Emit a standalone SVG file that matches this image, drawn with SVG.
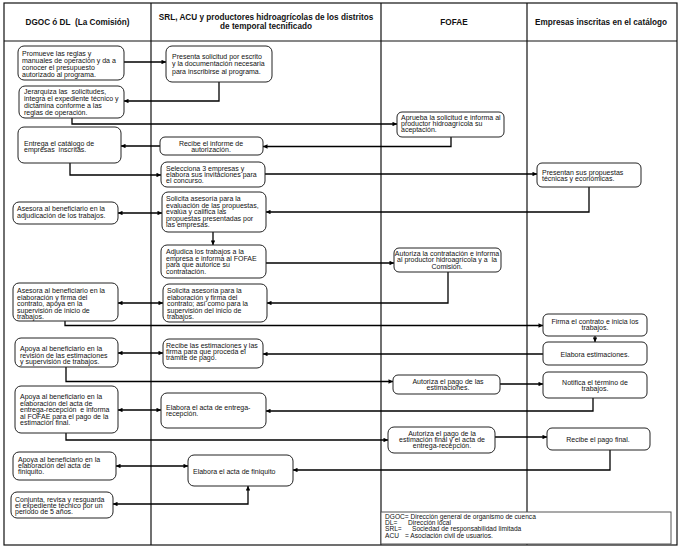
<svg xmlns="http://www.w3.org/2000/svg" width="678" height="551" viewBox="0 0 678 551">
<defs>
<marker id="ah" viewBox="0 0 6 6" refX="6" refY="3" markerWidth="5" markerHeight="4.5" markerUnits="userSpaceOnUse" orient="auto-start-reverse">
<path d="M0,0 L6,3 L0,6 z" fill="#000"/>
</marker>
<style>
.frame{fill:none;stroke:#111;stroke-width:1.2}
.box{fill:#fff;stroke:#222;stroke-width:1}
.t{font-family:"Liberation Sans",Arial,sans-serif;font-size:7px;fill:#111;white-space:pre}
.c{text-anchor:middle}
.h{font-family:"Liberation Sans",Arial,sans-serif;font-size:8.2px;font-weight:bold;fill:#111;text-anchor:middle;white-space:pre}
.lg{font-family:"Liberation Sans",Arial,sans-serif;font-size:6.6px;fill:#111;white-space:pre}
.cn{fill:none;stroke:#000;stroke-width:1.3}
.a{marker-end:url(#ah)}
.d{marker-start:url(#ah);marker-end:url(#ah)}
</style>
</defs>
<rect width="678" height="551" fill="#fff"/>

<g id="lanes">
<rect class="frame" x="4" y="3" width="673" height="542"/>
<line class="frame" x1="4" y1="41" x2="677" y2="41"/>
<line class="frame" x1="151" y1="3" x2="151" y2="545"/>
<line class="frame" x1="381" y1="3" x2="381" y2="545"/>
<line class="frame" x1="527" y1="3" x2="527" y2="545"/>
<text class="h" x="77.5" y="24.5">DGOC ó DL  (La Comisión)</text>
<text class="h" x="266" y="20">SRL, ACU y productores hidroagrícolas de los distritos</text>
<text class="h" x="266" y="29">de temporal tecnificado</text>
<text class="h" x="454" y="24.5">FOFAE</text>
<text class="h" x="601" y="24.5">Empresas inscritas en el catálogo</text>
</g>

<g id="connectors">
<path class="cn a" d="M124,62 H166"/>
<path class="cn a" d="M219,82 V101 H124"/>
<path class="cn a" d="M72,118 V124 H397"/>
<path class="cn a" d="M451,137 V146.5 H263"/>
<path class="cn a" d="M160,146 H121"/>
<path class="cn a" d="M70,163 V175 H161"/>
<path class="cn a" d="M265,174 H537"/>
<path class="cn a" d="M589,187 V212 H266"/>
<path class="cn d" d="M118,213 H162"/>
<path class="cn a" d="M213,232 V245"/>
<path class="cn a" d="M266,263 H394"/>
<path class="cn a" d="M448,272 V303 H267"/>
<path class="cn d" d="M118,303 H163"/>
<path class="cn a" d="M65,321 V325.5 H543"/>
<path class="cn a" d="M595,336 V342"/>
<path class="cn a" d="M543,354 H263"/>
<path class="cn d" d="M118,353 H163"/>
<path class="cn a" d="M66,367 V381.5 H393"/>
<path class="cn a" d="M500,384 H543"/>
<path class="cn a" d="M593,398 V411 H266"/>
<path class="cn d" d="M118,410 H161"/>
<path class="cn a" d="M66,433 V440 H388"/>
<path class="cn a" d="M495,437 H547"/>
<path class="cn a" d="M610,450 V470 H293"/>
<path class="cn d" d="M116,466 H188"/>
<path class="cn d" d="M113,504 H248 V486"/>
</g>

<g id="n1"><rect class="box" x="18" y="46" width="106" height="34" rx="6"/>
<text class="t" x="22" y="55.5">Promueve las reglas y</text>
<text class="t" x="22" y="62.7">manuales de operación y da a</text>
<text class="t" x="22" y="69.9">conocer el presupuesto</text>
<text class="t" x="22" y="77.1">autorizado al programa.</text></g>

<g id="n2"><rect class="box" x="19" y="86" width="105" height="32" rx="6"/>
<text class="t" x="24" y="94">Jerarquiza las  solicitudes,</text>
<text class="t" x="24" y="100.8">integra el expediente técnico y</text>
<text class="t" x="24" y="107.8">dictamina conforme a las</text>
<text class="t" x="24" y="114.8">reglas de operación.</text></g>

<g id="n3"><rect class="box" x="18" y="127" width="103" height="36" rx="6"/>
<text class="t" x="24" y="145.5">Entrega el catálogo de</text>
<text class="t" x="24" y="152">empresas  inscritas.</text></g>

<g id="n4"><rect class="box" x="13" y="202" width="105" height="22" rx="6"/>
<text class="t" x="17" y="211">Asesora al beneficiario en la</text>
<text class="t" x="17" y="217.5">adjudicación de los trabajos.</text></g>

<g id="n5"><rect class="box" x="13" y="283" width="105" height="38" rx="6"/>
<text class="t" x="17" y="293">Asesora al beneficiario en la</text>
<text class="t" x="17" y="299.5">elaboración y firma del</text>
<text class="t" x="17" y="306">contrato, apoya en la</text>
<text class="t" x="17" y="312.5">supervisión de inicio de</text>
<text class="t" x="17" y="319">trabajos.</text></g>

<g id="n6"><rect class="box" x="15" y="338" width="103" height="29" rx="6"/>
<text class="t" x="20" y="351">Apoya al beneficiario en la</text>
<text class="t" x="20" y="357.5">revisión de las estimaciones</text>
<text class="t" x="20" y="364">y supervisión de trabajos.</text></g>

<g id="n7"><rect class="box" x="15" y="386" width="103" height="47" rx="6"/>
<text class="t" x="20" y="399">Apoya al beneficiario en la</text>
<text class="t" x="20" y="405.5">elaboración del acta de</text>
<text class="t" x="20" y="412">entrega-recepción  e informa</text>
<text class="t" x="20" y="418.5">al FOFAE para el pago de la</text>
<text class="t" x="20" y="425">estimación final.</text></g>

<g id="n8"><rect class="box" x="13" y="452" width="103" height="28" rx="6"/>
<text class="t" x="18" y="462">Apoya al beneficiario en la</text>
<text class="t" x="18" y="468">elaboración del acta de</text>
<text class="t" x="18" y="474">finiquito.</text></g>

<g id="n9"><rect class="box" x="11" y="492" width="102" height="26" rx="6"/>
<text class="t" x="15" y="501.5">Conjunta, revisa y resguarda</text>
<text class="t" x="15" y="507.5">el expediente técnico por un</text>
<text class="t" x="15" y="513.5">periodo de 5 años.</text></g>

<g id="c1"><rect class="box" x="166" y="46" width="106" height="36" rx="6"/>
<text class="t" x="172" y="59">Presenta solicitud por escrito</text>
<text class="t" x="172" y="66.3">y la documentación necesaria</text>
<text class="t" x="172" y="73.5">para inscribirse al programa.</text></g>

<g id="c2"><rect class="box" x="160" y="137" width="103" height="18" rx="5"/>
<text class="t c" x="211" y="145.5">Recibe el informe de</text>
<text class="t c" x="211" y="151.8">autorización.</text></g>

<g id="c3"><rect class="box" x="161" y="162" width="104" height="25" rx="6"/>
<text class="t" x="166" y="170.5">Selecciona 3 empresas y</text>
<text class="t" x="166" y="176.8">elabora sus invitaciones para</text>
<text class="t" x="166" y="183">el concurso.</text></g>

<g id="c4"><rect class="box" x="162" y="192" width="104" height="40" rx="6"/>
<text class="t" x="166" y="201">Solicita asesoría para la</text>
<text class="t" x="166" y="207.5">evaluación de las propuestas,</text>
<text class="t" x="166" y="214">evalúa y califica las</text>
<text class="t" x="166" y="220.5">propuestas presentadas por</text>
<text class="t" x="166" y="227">las empresas.</text></g>

<g id="c5"><rect class="box" x="161" y="245" width="105" height="33" rx="6"/>
<text class="t" x="166" y="254">Adjudica los trabajos a la</text>
<text class="t" x="166" y="260.5">empresa e informa al FOFAE</text>
<text class="t" x="166" y="267">para que autorice su</text>
<text class="t" x="166" y="273.5">contratación.</text></g>

<g id="c6"><rect class="box" x="163" y="284" width="104" height="38" rx="6"/>
<text class="t" x="167" y="293">Solicita asesoría para la</text>
<text class="t" x="167" y="299.5">elaboración y firma del</text>
<text class="t" x="167" y="306">contrato; así como para la</text>
<text class="t" x="167" y="312.5">supervisión del inicio de</text>
<text class="t" x="167" y="319">trabajos.</text></g>

<g id="c7"><rect class="box" x="163" y="339" width="100" height="29" rx="6"/>
<text class="t" x="166" y="347.5">Recibe las estimaciones y las</text>
<text class="t" x="166" y="353.8">firma para que proceda el</text>
<text class="t" x="166" y="360">trámite de pago.</text></g>

<g id="c8"><rect class="box" x="161" y="393" width="105" height="35" rx="6"/>
<text class="t" x="166" y="409.5">Elabora el acta de entrega-</text>
<text class="t" x="166" y="416">recepción.</text></g>

<g id="c9"><rect class="box" x="188" y="455" width="105" height="31" rx="6"/>
<text class="t" x="193" y="473.5">Elabora el acta de finiquito</text></g>

<g id="f1"><rect class="box" x="397" y="112" width="107" height="25" rx="5"/>
<text class="t" x="401" y="119.5">Aprueba la solicitud e informa al</text>
<text class="t" x="401" y="125.8">productor hidroagrícola su</text>
<text class="t" x="401" y="132">aceptación.</text></g>

<g id="f2"><rect class="box" x="394" y="248" width="107" height="24" rx="5"/>
<text class="t c" x="447" y="255.5">Autoriza la contratación e informa</text>
<text class="t c" x="447" y="262">al productor hidroagrícola y a  la</text>
<text class="t c" x="447" y="268.5">Comisión.</text></g>

<g id="f3"><rect class="box" x="393" y="375" width="107" height="19" rx="5"/>
<text class="t c" x="448" y="384">Autoriza el pago de las</text>
<text class="t c" x="448" y="390.3">estimaciones.</text></g>

<g id="f4"><rect class="box" x="388" y="427" width="107" height="26" rx="6"/>
<text class="t c" x="442" y="435.5">Autoriza el pago de la</text>
<text class="t c" x="442" y="441.8">estimación final y el acta de</text>
<text class="t c" x="442" y="448">entrega-recepción.</text></g>

<g id="e1"><rect class="box" x="537" y="163" width="104" height="24" rx="5"/>
<text class="t" x="542" y="174.5">Presentan sus propuestas</text>
<text class="t" x="542" y="180.5">técnicas y económicas.</text></g>

<g id="e2"><rect class="box" x="543" y="314" width="104" height="22" rx="5"/>
<text class="t c" x="595" y="324">Firma el contrato e inicia los</text>
<text class="t c" x="595" y="330.3">trabajos.</text></g>

<g id="e3"><rect class="box" x="543" y="342" width="104" height="23" rx="5"/>
<text class="t c" x="595" y="356.5">Elabora estimaciones.</text></g>

<g id="e4"><rect class="box" x="543" y="372" width="104" height="26" rx="5"/>
<text class="t c" x="595" y="385">Notifica el término de</text>
<text class="t c" x="595" y="391.3">trabajos.</text></g>

<g id="e5"><rect class="box" x="547" y="428" width="103" height="22" rx="5"/>
<text class="t c" x="598" y="441.5">Recibe el pago final.</text></g>

<g id="legend"><rect x="381" y="512" width="290" height="32" fill="#fff" stroke="#555" stroke-width="1"/>
<text class="lg" x="385" y="518.8">DGOC= Dirección general de organismo de cuenca</text>
<text class="lg" x="385" y="525">DL=</text><text class="lg" x="408" y="525">Dirección local</text>
<text class="lg" x="385" y="531.3">SRL=</text><text class="lg" x="412" y="531.3">Sociedad de responsabilidad limitada</text>
<text class="lg" x="385" y="537.5">ACU</text><text class="lg" x="405" y="537.5">= Asociación civil de usuarios.</text></g>
</svg>
